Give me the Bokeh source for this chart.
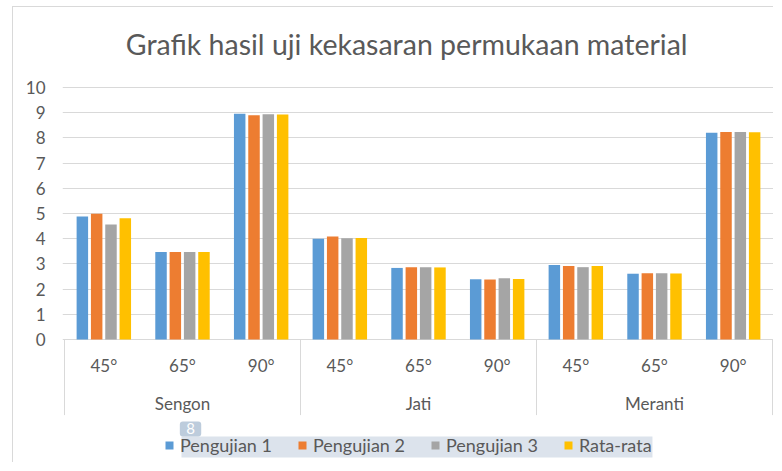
from bokeh.plotting import figure
from bokeh.models import (FactorRange, Range1d, FixedTicker, Legend, LegendItem,
                          BoxAnnotation, ColumnDataSource)
from bokeh.transform import dodge
from bokeh.core.properties import value
from bokeh.embed import file_html
from bokeh.resources import INLINE

# ---------------- data ----------------
woods = ["Sengon", "Jati", "Meranti"]
angles = ["45°", "65°", "90°"]
series_names = ["Pengujian 1", "Pengujian 2", "Pengujian 3", "Rata-rata"]
pengujian_1 = [4.88, 3.47, 8.96, 4.00, 2.84, 2.39, 2.96, 2.61, 8.20]
pengujian_2 = [4.99, 3.47, 8.90, 4.09, 2.87, 2.38, 2.92, 2.63, 8.23]
pengujian_3 = [4.56, 3.47, 8.94, 4.02, 2.87, 2.43, 2.87, 2.63, 8.23]
rata_rata = [4.81, 3.47, 8.93, 4.03, 2.86, 2.40, 2.92, 2.62, 8.22]
y_ticks = list(range(0, 11))
title_text = "Grafik hasil uji kekasaran permukaan material"
badge_text = "8"

# ---------------- styles ----------------
colors = ["#5B9BD5", "#ED7D31", "#A5A5A5", "#FFC000"]
text_color = "#595959"
grid_color = "#D9D9D9"
font = "Lato"

factors = [(w, a) for w in woods for a in angles]
source = ColumnDataSource(dict(
    x=factors, p1=pengujian_1, p2=pengujian_2, p3=pengujian_3, rr=rata_rata,
    angle=[a for _, a in factors],
))

x_range = FactorRange(factors=factors, factor_padding=0, group_padding=0,
                      subgroup_padding=0, range_padding=0.00565,
                      range_padding_units="percent")

p = figure(width=761, height=456, x_range=x_range, y_range=Range1d(-4.921, 13.175),
           output_backend="svg", toolbar_location=None, x_axis_location=None,
           min_border_left=49, min_border_right=0, min_border_top=0,
           min_border_bottom=0, outline_line_color=None)
p.styles = {"margin-left": "12px", "margin-top": "6px",
            "border-left": f"1px solid {grid_color}",
            "border-top": f"1px solid {grid_color}"}

# y axis
p.yaxis.ticker = FixedTicker(ticks=y_ticks)
p.yaxis.axis_line_color = None
p.yaxis.major_tick_line_color = None
p.yaxis.minor_tick_line_color = None
p.yaxis.major_label_standoff = 11
p.yaxis.major_label_text_font = font
p.yaxis.major_label_text_font_size = "17px"
p.yaxis.major_label_text_color = text_color
p.ygrid.ticker = FixedTicker(ticks=y_ticks)
p.ygrid.grid_line_color = grid_color
p.xgrid.visible = False

# highlight band behind legend text & badge (decorations seen in the picture)
p.add_layout(BoxAnnotation(left=1.487, right=7.474, bottom=-4.683, top=-3.849,
                           fill_color="#DCE3EC", fill_alpha=1, line_color=None,
                           level="underlay"))
p.add_layout(BoxAnnotation(left=1.466, right=1.738, bottom=-3.849, top=-3.254,
                           fill_color="#BDCCDC", fill_alpha=1, line_color=None,
                           border_radius=3, level="underlay"))
p.text(x=[1.602], y=[-3.55], text=[badge_text], text_align="center",
       text_baseline="middle", text_font=value(font), text_font_size="15px",
       text_color="white")

# bars
offsets = [-0.273, -0.091, 0.091, 0.273]
cols = ["p1", "p2", "p3", "rr"]
renderers = []
for col, off, c in zip(cols, offsets, colors):
    r = p.vbar(x=dodge("x", off, range=p.x_range), top=col, width=0.146,
               source=source, fill_color=c, line_color=None)
    renderers.append(r)

# category axis: dividers and labels
left_src = ColumnDataSource(dict(x=[(w, angles[0]) for w in woods]))
p.segment(x0=dodge("x", -0.5, range=p.x_range), y0=0,
          x1=dodge("x", -0.5, range=p.x_range), y1=-3.0,
          source=left_src, line_color=grid_color, line_width=1)
right_src = ColumnDataSource(dict(x=[(woods[-1], angles[-1])]))
p.segment(x0=dodge("x", 0.5, range=p.x_range), y0=0,
          x1=dodge("x", 0.5, range=p.x_range), y1=-3.0,
          source=right_src, line_color=grid_color, line_width=1)

p.text(x="x", y=-1.03, text="angle", source=source, text_align="center",
       text_baseline="middle", text_font=value(font), text_font_size="17px",
       text_color=text_color)
wood_src = ColumnDataSource(dict(x=[(w, angles[1]) for w in woods], t=woods))
p.text(x="x", y=-2.54, text="t", source=wood_src, text_align="center",
       text_baseline="middle", text_font=value(font), text_font_size="17px",
       text_color=text_color)

# title
p.text(x=[4.35], y=[11.71], text=[title_text], text_align="center",
       text_baseline="middle", text_font=value(font), text_font_size="28.5px",
       text_color=text_color)

# legend
legend = Legend(items=[LegendItem(label=n, renderers=[r]) for n, r in zip(series_names, renderers)],
                orientation="horizontal", location=(102, 7), glyph_width=10,
                glyph_height=10, label_standoff=6, spacing=25, padding=0, margin=0,
                border_line_color=None, background_fill_alpha=0,
                label_text_font=font, label_text_font_size="18px",
                label_text_color=text_color, label_height=20)
p.add_layout(legend)

open("out.html", "w").write(file_html(p, INLINE))
